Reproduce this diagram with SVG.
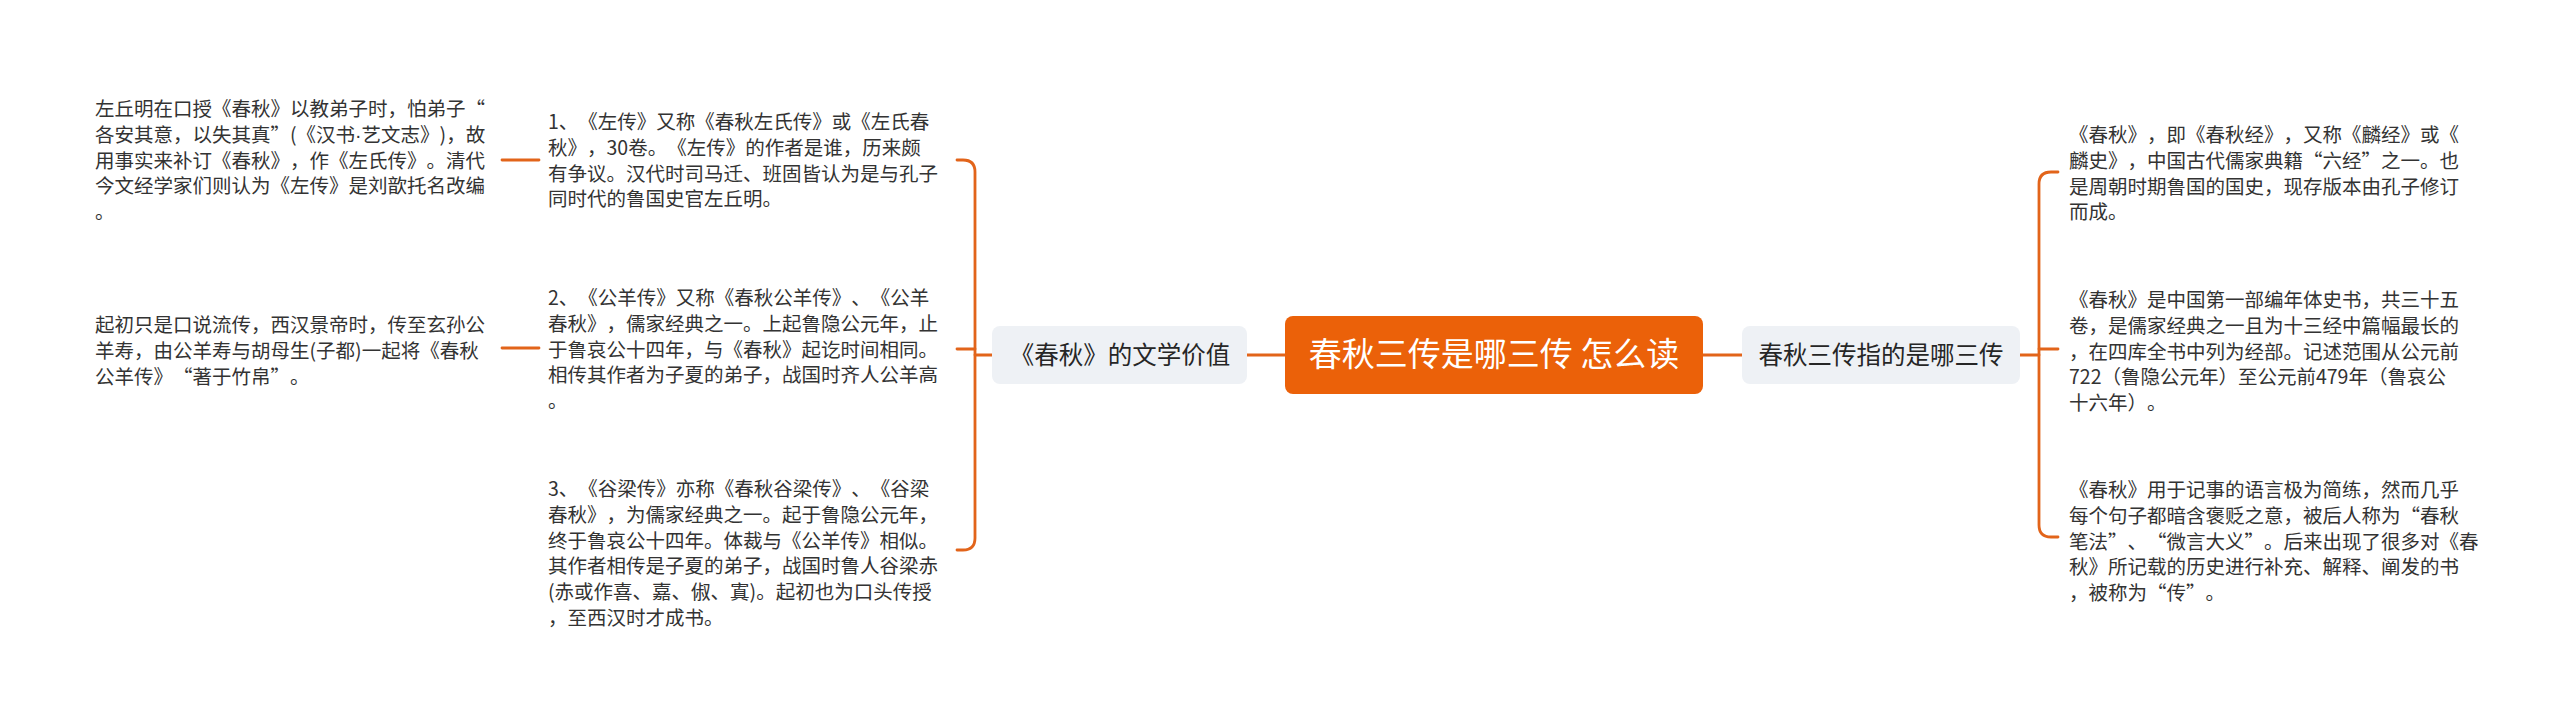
<svg xmlns="http://www.w3.org/2000/svg" width="2560" height="723" viewBox="0 0 2560 723">
<style>
.bg{fill:#ffffff}
.conn{fill:none;stroke:#e2641a;stroke-width:2.8;stroke-linecap:round;stroke-linejoin:round}
text{text-spacing-trim:space-all}
.t{font-family:"Noto Sans CJK SC","Noto Sans",sans-serif;font-size:19.5px;fill:#333333}
.lat{font-family:"Liberation Sans",sans-serif}
.sub{fill:#eef1f5}
.subt{font-family:"Noto Sans CJK SC","Noto Sans",sans-serif;font-size:24.5px;fill:#262626;text-anchor:middle}
.root{fill:#eb6109}
.roott{font-family:"Noto Sans CJK SC","Noto Sans",sans-serif;font-size:33px;fill:#ffffff;text-anchor:middle}
</style>
<rect class="bg" x="0" y="0" width="2560" height="723"/>
<g id="connectors">
<path class="conn" d="M1285 355 H1247"/>
<path class="conn" d="M992 355 H975"/>
<path class="conn" d="M957 160 H963 Q975 160 975 172 V538 Q975 550 963 550 H957"/>
<path class="conn" d="M957 349 H975"/>
<path class="conn" d="M502 160 H539"/>
<path class="conn" d="M502 348 H539"/>
<path class="conn" d="M1703 355 H1742"/>
<path class="conn" d="M2020 355 H2039"/>
<path class="conn" d="M2058 172 H2051 Q2039 172 2039 184 V525 Q2039 537 2051 537 H2058"/>
<path class="conn" d="M2039 349 H2058"/>
</g>
<g id="root">
<rect class="root" x="1285" y="316" width="418" height="78" rx="8"/>
<text class="roott" x="1494" y="366">春秋三传是哪三传 怎么读</text>
</g>
<g id="left-topic">
<rect class="sub" x="992" y="326" width="255" height="58" rx="8"/>
<text class="subt" x="1120" y="364">《春秋》的文学价值</text>
</g>
<g id="right-topic">
<rect class="sub" x="1742" y="326" width="278" height="58" rx="8"/>
<text class="subt" x="1881" y="364">春秋三传指的是哪三传</text>
</g>
<g id="zuozhuan">
<text class="t" x="548" y="129"><tspan x="548">1、《左传》又称《春秋左氏传》或《左氏春</tspan><tspan x="548" dy="25.8">秋》，30卷。《左传》的作者是谁，历来颇</tspan><tspan x="548" dy="25.8">有争议。汉代时司马迁、班固皆认为是与孔子</tspan><tspan x="548" dy="25.8">同时代的鲁国史官左丘明。</tspan></text>
</g>
<g id="zuozhuan-note">
<text class="t" x="95" y="116"><tspan x="95">左丘明在口授《春秋》以教弟子时，怕弟子“</tspan><tspan x="95" dy="25.8">各安其意，以失其真”(《汉书<tspan class="lat">·</tspan>艺文志》)，故</tspan><tspan x="95" dy="25.8">用事实来补订《春秋》，作《左氏传》。清代</tspan><tspan x="95" dy="25.8">今文经学家们则认为《左传》是刘歆托名改编</tspan><tspan x="95" dy="25.8">。</tspan></text>
</g>
<g id="gongyang">
<text class="t" x="548" y="305"><tspan x="548">2、《公羊传》又称《春秋公羊传》、《公羊</tspan><tspan x="548" dy="25.8">春秋》，儒家经典之一。上起鲁隐公元年，止</tspan><tspan x="548" dy="25.8">于鲁哀公十四年，与《春秋》起讫时间相同。</tspan><tspan x="548" dy="25.8">相传其作者为子夏的弟子，战国时齐人公羊高</tspan><tspan x="548" dy="25.8">。</tspan></text>
</g>
<g id="gongyang-note">
<text class="t" x="95" y="332"><tspan x="95">起初只是口说流传，西汉景帝时，传至玄孙公</tspan><tspan x="95" dy="25.8">羊寿，由公羊寿与胡母生(子都)一起将《春秋</tspan><tspan x="95" dy="25.8">公羊传》“著于竹帛”。</tspan></text>
</g>
<g id="guliang">
<text class="t" x="548" y="496"><tspan x="548">3、《谷梁传》亦称《春秋谷梁传》、《谷梁</tspan><tspan x="548" dy="25.8">春秋》，为儒家经典之一。起于鲁隐公元年，</tspan><tspan x="548" dy="25.8">终于鲁哀公十四年。体裁与《公羊传》相似。</tspan><tspan x="548" dy="25.8">其作者相传是子夏的弟子，战国时鲁人谷梁赤</tspan><tspan x="548" dy="25.8">(赤或作喜、嘉、俶、寘)。起初也为口头传授</tspan><tspan x="548" dy="25.8">，至西汉时才成书。</tspan></text>
</g>
<g id="chunqiu-1">
<text class="t" x="2069" y="142"><tspan x="2069">《春秋》，即《春秋经》，又称《麟经》或《</tspan><tspan x="2069" dy="25.8">麟史》，中国古代儒家典籍“六经”之一。也</tspan><tspan x="2069" dy="25.8">是周朝时期鲁国的国史，现存版本由孔子修订</tspan><tspan x="2069" dy="25.8">而成。</tspan></text>
</g>
<g id="chunqiu-2">
<text class="t" x="2069" y="307"><tspan x="2069">《春秋》是中国第一部编年体史书，共三十五</tspan><tspan x="2069" dy="25.8">卷，是儒家经典之一且为十三经中篇幅最长的</tspan><tspan x="2069" dy="25.8">，在四库全书中列为经部。记述范围从公元前</tspan><tspan x="2069" dy="25.8">722（鲁隐公元年）至公元前479年（鲁哀公</tspan><tspan x="2069" dy="25.8">十六年）。</tspan></text>
</g>
<g id="chunqiu-3">
<text class="t" x="2069" y="497"><tspan x="2069">《春秋》用于记事的语言极为简练，然而几乎</tspan><tspan x="2069" dy="25.8">每个句子都暗含褒贬之意，被后人称为“春秋</tspan><tspan x="2069" dy="25.8">笔法”、“微言大义”。后来出现了很多对《春</tspan><tspan x="2069" dy="25.8">秋》所记载的历史进行补充、解释、阐发的书</tspan><tspan x="2069" dy="25.8">，被称为“传”。</tspan></text>
</g>
</svg>
